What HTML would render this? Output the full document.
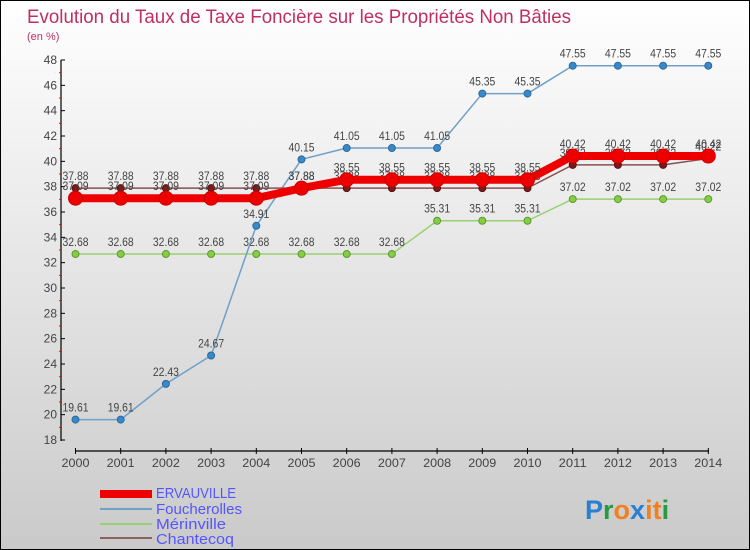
<!DOCTYPE html>
<html><head><meta charset="utf-8"><style>
body{margin:0}
#c{width:748px;height:548px;border:1px solid #000;background:linear-gradient(#fff,#cacaca);position:relative;font-family:"Liberation Sans",sans-serif;overflow:hidden}
</style></head><body>
<div id="c">
<svg width="748" height="548" id="s">
<text x="26" y="22" font-size="19" fill="#c0305f" textLength="544" lengthAdjust="spacingAndGlyphs">Evolution du Taux de Taxe Foncière sur les Propriétés Non Bâties</text>
<text x="26" y="39" font-size="11" fill="#c0305f">(en %)</text>
<g id="axes"></g><g id="series"></g>
<g>
<rect x="99" y="489" width="52" height="8" fill="#e00"/>
<text x="155" y="497" font-size="15" fill="#5555ff" textLength="80" lengthAdjust="spacingAndGlyphs">ERVAUVILLE</text>
<rect x="99" y="507" width="52" height="2" fill="#6fa0c8"/>
<text x="155" y="513" font-size="15" fill="#5555ff" textLength="86" lengthAdjust="spacingAndGlyphs">Foucherolles</text>
<rect x="99" y="522" width="52" height="2" fill="#99d070"/>
<text x="155" y="528" font-size="15" fill="#5555ff" textLength="70" lengthAdjust="spacingAndGlyphs">Mérinville</text>
<rect x="99" y="536" width="52" height="2" fill="#8a6060"/>
<text x="155" y="543" font-size="15" fill="#5555ff" textLength="78" lengthAdjust="spacingAndGlyphs">Chantecoq</text>
</g>
<text x="584" y="518" font-size="27" font-weight="bold"><tspan fill="#2a7fd0">P</tspan><tspan fill="#2a9a40">r</tspan><tspan fill="#f08020">o</tspan><tspan fill="#2a7fd0">x</tspan><tspan fill="#f08020">it</tspan><tspan fill="#2a9a40">i</tspan></text>
</svg></div>
<script>
const years=[2000,2001,2002,2003,2004,2005,2006,2007,2008,2009,2010,2011,2012,2013,2014];
const yTicks=[18,20,22,24,26,28,30,32,34,36,38,40,42,44,46,48];
const ervauville=[37.09,37.09,37.09,37.09,37.09,37.88,38.55,38.55,38.55,38.55,38.55,40.42,40.42,40.42,40.42];
const foucherolles=[19.61,19.61,22.43,24.67,34.91,40.15,41.05,41.05,41.05,45.35,45.35,47.55,47.55,47.55,47.55];
const merinville=[32.68,32.68,32.68,32.68,32.68,32.68,32.68,32.68,35.31,35.31,35.31,37.02,37.02,37.02,37.02];
const chantecoq=[37.88,37.88,37.88,37.88,37.88,37.88,37.88,37.88,37.88,37.88,37.88,39.72,39.72,39.72,40.22];
const NS="http://www.w3.org/2000/svg";
const x=i=>74.5+i*45.2;
const y=v=>439-(v-18)*(380/30);
function mk(t,a,p){const e=document.createElementNS(NS,t);for(const k in a)e.setAttribute(k,a[k]);p.appendChild(e);return e;}
const ax=document.getElementById('axes');
const yl=mk('line',{x1:60,y1:59,x2:60,y2:440,stroke:'#000','stroke-width':1.2},ax);


yTicks.forEach(v=>{
 mk('line',{x1:60,x2:64,y1:y(v),y2:y(v),stroke:'#000'},ax);
 if(v<48)mk('line',{x1:58,x2:60,y1:y(v+1),y2:y(v+1),stroke:'#f00'},ax);
 const t=mk('text',{x:56,y:y(v)+4,'font-size':12,fill:'#444','text-anchor':'end'},ax);t.textContent=v;
 
 
});
const xl=mk('line',{x1:74,y1:450,x2:708,y2:450,stroke:'#000','stroke-width':1.2},ax);


years.forEach((yr,i)=>{
 mk('line',{x1:x(i),x2:x(i),y1:447,y2:453,stroke:'#000'},ax);
 const t=mk('text',{x:x(i),y:466,'font-size':12,fill:'#444','text-anchor':'middle',textLength:28,lengthAdjust:'spacingAndGlyphs'},ax);t.textContent=yr;
 
 
});
const sg=document.getElementById('series');
function series(name,vals,color,w,r,fill,stroke){
 const g=mk('g',{},sg);
 
 
 const p=mk('polyline',{points:vals.map((v,i)=>x(i)+','+y(v)).join(' '),fill:'none',stroke:color,'stroke-width':w},g);
 
 
 vals.forEach((v,i)=>{
  const c=mk('circle',{cx:x(i),cy:y(v),r:r,fill:fill,stroke:stroke,'stroke-width':1},g);
  
  
  const t=mk('text',{x:x(i),y:y(v)-8,'font-size':12,fill:'#444','text-anchor':'middle',textLength:26,lengthAdjust:'spacingAndGlyphs'},g);
  t.textContent=v.toFixed(2);
  
  
 });
}
series('merinville',merinville,'#99d070',1.5,3.5,'#88cc44','#5a9a30');
series('foucherolles',foucherolles,'#6fa0c8',1.5,3.5,'#3a88cc','#2a6a9a');
series('chantecoq',chantecoq,'#8a5050',1.5,3.5,'#7a1a1a','#5a1010');
series('ervauville',ervauville,'#ee0000',8,7,'#ee0000','#cc0000');
</script>
</body></html>
